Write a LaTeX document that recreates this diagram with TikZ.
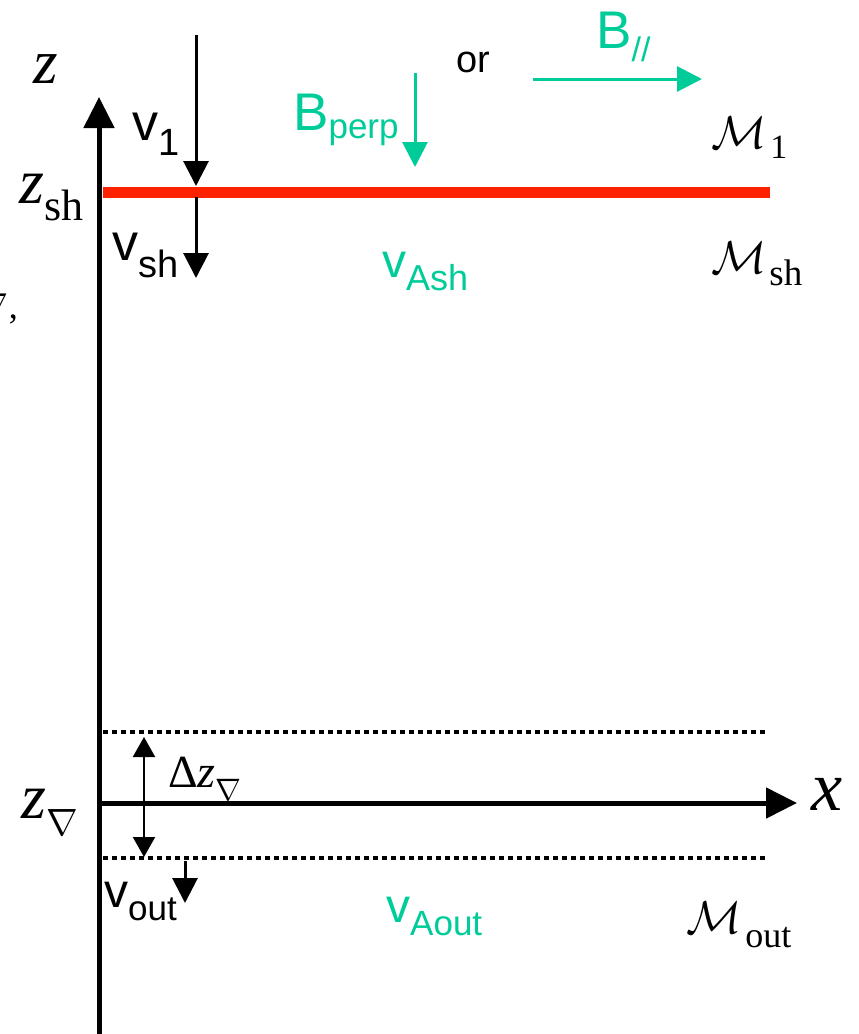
\RequirePackage{fix-cm}
\documentclass[tikz,border=0pt]{standalone}
\usepackage{fontspec}
\setmainfont{Liberation Serif}
\newfontfamily\arial{Liberation Sans}
\usetikzlibrary{arrows.meta}
\definecolor{tealB}{RGB}{0,204,153}
\definecolor{shockred}{RGB}{255,34,0}
\newcommand\fs[1]{\fontsize{#1}{#1}\selectfont}
\newcommand\lowr[2]{\raisebox{-#1pt}{#2}}
\begin{document}
\begin{tikzpicture}[x=1pt,y=-1pt,
  lab/.style={inner sep=0pt, anchor=base west},
  axis/.style={line width=5pt, -{Triangle[width=30pt,length=31pt]}},
  varrow/.style={line width=3pt, -{Triangle[width=25pt,length=25pt]}},
  barrow/.style={line width=3pt, tealB, -{Triangle[width=25pt,length=25pt]}},
  dotline/.style={line width=4.5pt, dash pattern=on 4.5pt off 4.5pt},
  dbl/.style={line width=2pt, {Triangle[width=22pt,length=20pt]}-{Triangle[width=22pt,length=20pt]}}]
\useasboundingbox (0,0) rectangle (859,1034);
% coordinates
\coordinate (zbot) at (99,1040);
\coordinate (ztop) at (99,97);
\coordinate (xstart) at (97,803);
\coordinate (xend) at (797,803);
\coordinate (shL) at (103,192);
\coordinate (shR) at (770,192);
\coordinate (v1s) at (196,35);
\coordinate (v1e) at (196,186);
\coordinate (vshs) at (196,197);
\coordinate (vshe) at (196,278);
\coordinate (bps) at (415,73);
\coordinate (bpe) at (415,167);
\coordinate (bqs) at (533,79);
\coordinate (bqe) at (702,79);
\coordinate (d1L) at (103,732);
\coordinate (d1R) at (767,732);
\coordinate (d2L) at (103,858);
\coordinate (d2R) at (767,858);
\coordinate (dzt) at (144,737);
\coordinate (dzb) at (144,857);
\coordinate (vos) at (185,861);
\coordinate (voe) at (185,903);
% lines
\draw[axis] (zbot) -- (ztop);
\draw[axis] (xstart) -- (xend);
\draw[shockred, line width=11pt] (shL) -- (shR);
\draw[varrow] (v1s) -- (v1e);
\draw[varrow] (vshs) -- (vshe);
\draw[barrow] (bps) -- (bpe);
\draw[barrow] (bqs) -- (bqe);
\draw[dotline] (d1L) -- (d1R);
\draw[dotline] (d2L) -- (d2R);
\draw[dbl] (dzt) -- (dzb);
\draw[varrow] (vos) -- (voe);
% serif labels
\node[lab] (zlab) at (33,83) {\fs{63}\itshape z};
\node[lab] (zsh) at (19,203) {\fs{64}{\itshape z}\lowr{17}{\fs{44}sh}};
\node[lab] (zna) at (21,818) {\fs{64}{\itshape z}\lowr{17}{\fs{38}$\nabla$}};
\node[lab] (dz) at (168,787) {\fs{46}Δ{\itshape z}\lowr{13}{\fs{31}$\nabla$}};
\node[lab] (xlab) at (811,810) {\fs{70}\itshape x};
\node[lab] (M1) at (711,148) {\fs{46}$\mathcal{M}$\hspace{4pt}\lowr{10}{\fs{34}1}};
\node[lab] (Msh) at (711,273) {\fs{46}$\mathcal{M}$\hspace{3pt}\lowr{12}{\fs{37}sh}};
\node[lab] (Mout) at (686,933) {\fs{46}$\mathcal{M}$\hspace{4pt}\lowr{14}{\fs{36}out}};
% sans labels
\node[lab] (v1lab) at (132,140) {\arial\fs{52}v\lowr{15}{\fs{38}1}};
\node[lab] (vshlab) at (112,260) {\arial\fs{52}v\lowr{17}{\fs{38}sh}};
\node[lab] (orlab) at (456,72) {\arial\fs{38}or};
\node[lab, text=tealB] (Bperp) at (293,130) {\arial\fs{53}B\lowr{8}{\fs{35}perp}};
\node[lab, text=tealB] (Bpar) at (596,48) {\arial\fs{53}B\lowr{13}{\fs{34}//}};
\node[lab, text=tealB] (vAsh) at (382,277) {\arial\fs{48}v\lowr{13}{\fs{36}Ash}};
\node[lab, text=tealB] (vAout) at (386,922) {\arial\fs{48}v\lowr{13}{\fs{35}Aout}};
\node[lab] (voutlab) at (104,907) {\arial\fs{48}v\lowr{13}{\fs{35}out}};
% clipped fragment at left edge
\begin{scope}
\clip (0,0) rectangle (859,1034);
\node[inner sep=0pt, anchor=base east] (frag) at (18,318) {\fs{36}$\nabla$,};
\end{scope}
\end{tikzpicture}
\end{document}
